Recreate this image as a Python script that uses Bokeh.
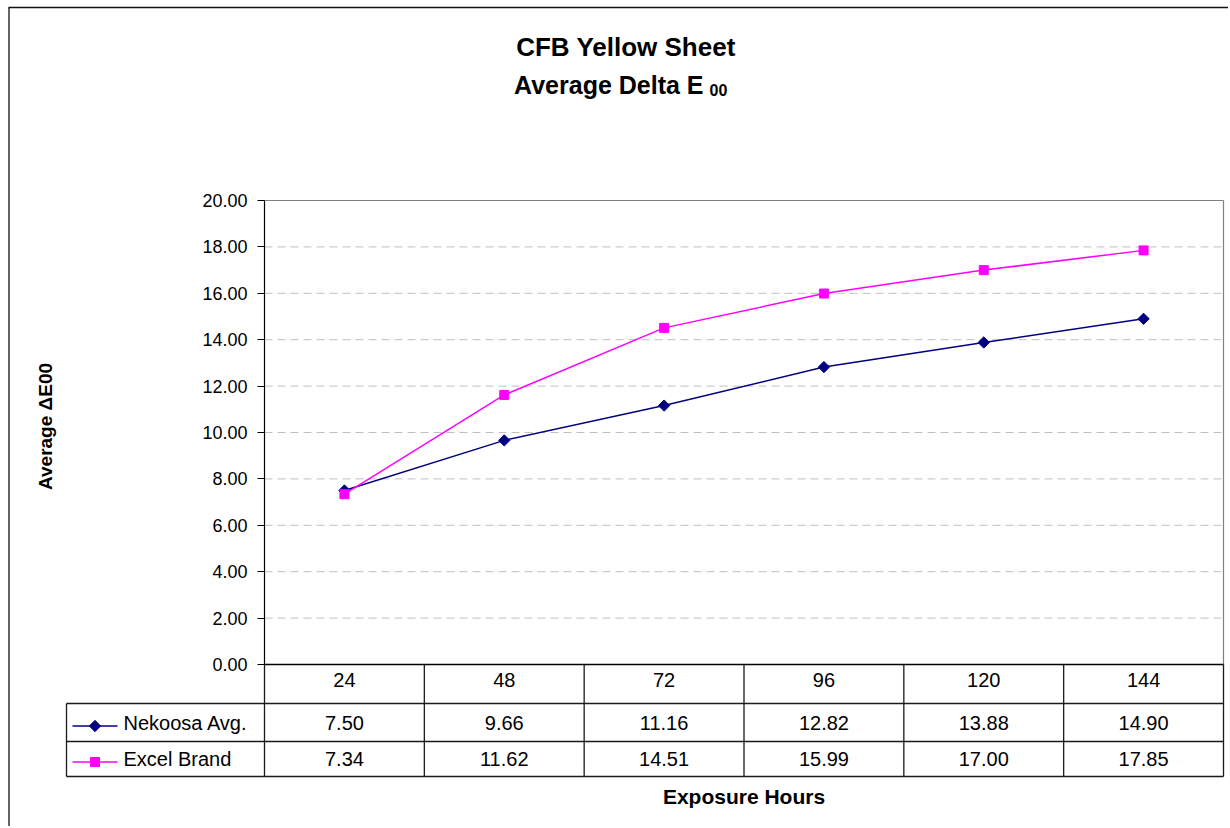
import math
from bokeh.plotting import figure
from bokeh.models import Range1d, FixedTicker, NumeralTickFormatter, LinearAxis, Grid
from bokeh.embed import file_html
from bokeh.resources import INLINE
from bokeh.core.properties import value

# ---------------- data ----------------
hours = [24, 48, 72, 96, 120, 144]
nekoosa = [7.50, 9.66, 11.16, 12.82, 13.88, 14.90]
excel_brand = [7.34, 11.62, 14.51, 15.99, 17.00, 17.85]
series_names = ["Nekoosa Avg.", "Excel Brand"]
y_ticks = [0, 2, 4, 6, 8, 10, 12, 14, 16, 18, 20]
title_line1 = "CFB Yellow Sheet"
title_line2 = "Average Delta E"
title_sub = "00"
y_title = "Average \u0394E00"
x_title = "Exposure Hours"

# ---------------- styles / layout (pixel positions on the page) ----------------
FONT = "Liberation Sans"
NAVY = "#000080"
MAGENTA = "#FF00FF"
LINE = "#1a1a1a"
W, H = 1228, 826
PLOT_L, PLOT_R, PLOT_T, PLOT_B = 264, 1223, 200, 664

half = (hours[1] - hours[0]) / 2.0
x_lo, x_hi = hours[0] - half, hours[-1] + half
y_lo, y_hi = y_ticks[0], y_ticks[-1]
bounds = [h - half for h in hours] + [hours[-1] + half]
kx = (x_hi - x_lo) / (PLOT_R - PLOT_L)      # data units per pixel (x)
ky = (y_hi - y_lo) / (PLOT_B - PLOT_T)      # data units per pixel (y)


def px(page_x):
    return x_lo + (page_x - PLOT_L) * kx


def py(page_y):
    return y_lo + (PLOT_B - page_y) * ky


p = figure(width=W, height=H,
           x_range=Range1d(px(0), px(W)), y_range=Range1d(py(H), py(0)),
           x_axis_location=None, y_axis_location=None, min_border=0,
           toolbar_location=None, output_backend="svg")
p.outline_line_color = None
p.background_fill_color = "white"
p.border_fill_color = "white"
for r in list(p.center):
    if isinstance(r, Grid):
        r.visible = False

# outer chart border (left and top)
p.segment(x0=[px(8.5), px(8)], x1=[px(8.5), px(W)], y0=[py(7), py(7)], y1=[py(H), py(7)],
          line_color="#111111", line_width=1.3)

# title
p.text(x=[px(625.5)], y=[py(46)], text=[title_line1], text_font=value(FONT),
       text_font_size="26px", text_font_style="bold", text_align="center",
       text_baseline="alphabetic", text_color="black")
p.text(x=[px(703)], y=[py(84)], text=[title_line2], text_font=value(FONT),
       text_font_size="25px", text_font_style="bold", text_align="right",
       text_baseline="alphabetic", text_color="black")
p.text(x=[px(709)], y=[py(89)], text=[title_sub], text_font=value(FONT),
       text_font_size="16px", text_font_style="bold", text_align="left",
       text_baseline="alphabetic", text_color="black")

# y-axis title
p.text(x=[px(45)], y=[py(426)], text=[y_title], angle=math.pi / 2, text_font=value(FONT),
       text_font_size="19px", text_font_style="bold", text_align="center",
       text_baseline="middle", text_color="black")

# plot area: dashed gridlines and grey border (top/right)
grid_y = y_ticks[1:-1]
p.segment(x0=[x_lo] * len(grid_y), x1=[x_hi] * len(grid_y), y0=grid_y, y1=grid_y,
          line_color="#c0c0c0", line_width=1, line_dash="8 5")
p.segment(x0=[x_lo, x_hi], x1=[x_hi, x_hi], y0=[y_hi, y_lo], y1=[y_hi, y_hi],
          line_color="#808080", line_width=1.2)

# y axis
ya = LinearAxis(fixed_location=x_lo, bounds=(y_lo, y_hi))
ya.ticker = FixedTicker(ticks=y_ticks)
ya.formatter = NumeralTickFormatter(format="0.00")
ya.major_tick_out = 7
ya.major_tick_in = 0
ya.minor_tick_out = 0
ya.minor_tick_in = 0
ya.axis_line_color = "black"
ya.axis_line_width = 1.2
ya.major_tick_line_color = "black"
ya.major_label_text_font = FONT
ya.major_label_text_font_size = "18px"
ya.major_label_text_color = "black"
ya.major_label_standoff = 10
p.add_layout(ya, "left")

# x axis (category labels of the data table's header row)
xa = LinearAxis(fixed_location=y_lo, bounds=(x_lo, x_hi))
xa.ticker = FixedTicker(ticks=hours)
xa.major_tick_out = 0
xa.major_tick_in = 0
xa.minor_tick_in = 0
xa.minor_tick_out = 0
xa.axis_line_color = "black"
xa.axis_line_width = 1.3
xa.major_label_text_font = FONT
xa.major_label_text_font_size = "20px"
xa.major_label_text_color = "black"
xa.major_label_standoff = 8
p.add_layout(xa, "below")

# series
p.line(hours, nekoosa, line_color=NAVY, line_width=1.5)
p.scatter(hours, nekoosa, marker="square", angle=math.pi / 4, size=8,
          fill_color=NAVY, line_color=NAVY)
p.line(hours, excel_brand, line_color=MAGENTA, line_width=1.5)
p.scatter(hours, excel_brand, marker="square", size=9,
          fill_color=MAGENTA, line_color=MAGENTA)

# ---------------- data table ----------------
tab_left = px(66)
row_lines = [py(703), py(741), py(776)]
tab_bottom = py(776)
p.segment(x0=[tab_left] * 3, x1=[x_hi] * 3, y0=row_lines, y1=row_lines,
          line_color=LINE, line_width=1.3)
p.segment(x0=bounds, x1=bounds, y0=[y_lo] * len(bounds), y1=[tab_bottom] * len(bounds),
          line_color=LINE, line_width=1.3)
p.segment(x0=[tab_left], x1=[tab_left], y0=[py(703)], y1=[tab_bottom],
          line_color=LINE, line_width=1.3)

row_text_y = [py(722.5), py(758.5)]
row_key_y = [py(725.5), py(761.5)]
colors = [NAVY, MAGENTA]
series_vals = [nekoosa, excel_brand]

# legend keys
p.segment(x0=[px(72)] * 2, x1=[px(117)] * 2, y0=row_key_y, y1=row_key_y,
          line_color=colors, line_width=1.5)
p.scatter([px(94.5)], [row_key_y[0]], marker="square", angle=math.pi / 4, size=8,
          fill_color=NAVY, line_color=NAVY)
p.scatter([px(94.5)], [row_key_y[1]], marker="square", size=9,
          fill_color=MAGENTA, line_color=MAGENTA)
p.text(x=[px(123)] * 2, y=row_text_y, text=series_names, text_font=value(FONT),
       text_font_size="20px", text_align="left", text_baseline="middle",
       text_color="black")

# values
for vals, ty in zip(series_vals, row_text_y):
    p.text(x=hours, y=[ty] * len(hours), text=["%.2f" % v for v in vals],
           text_font=value(FONT), text_font_size="20px", text_align="center",
           text_baseline="middle", text_color="black")

p.text(x=[(x_lo + x_hi) / 2], y=[py(796)], text=[x_title], text_font=value(FONT),
       text_font_size="21px", text_font_style="bold", text_align="center",
       text_baseline="middle", text_color="black")

open("out.html", "w").write(file_html(p, INLINE))
